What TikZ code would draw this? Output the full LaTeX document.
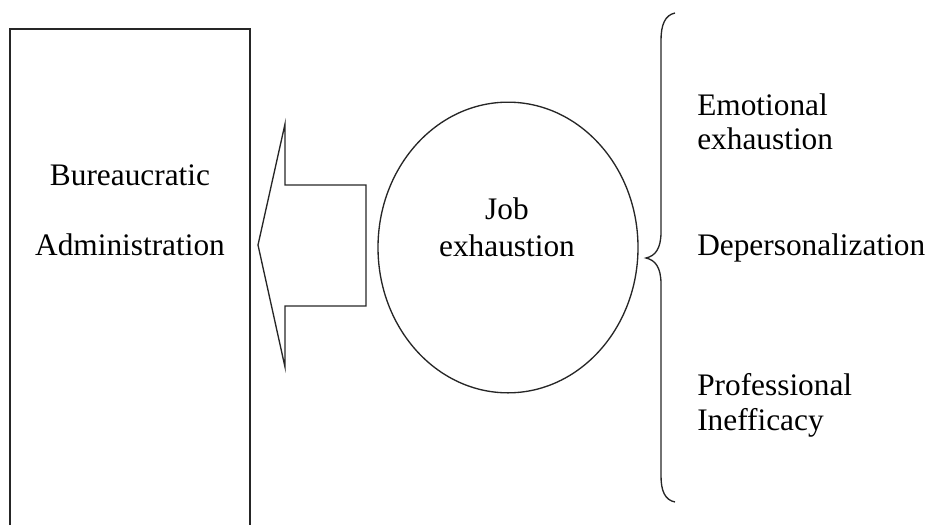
\documentclass[tikz,border=0pt]{standalone}
\usepackage{fontspec}
\setmainfont{Liberation Serif}
\usetikzlibrary{shapes.geometric}
\begin{document}
\begin{tikzpicture}[x=0.75pt,y=-0.75pt,
  shape line/.style={draw=black!85, line width=1pt},
  label text/.style={font=\fontsize{23.5}{26}\selectfont, inner sep=0pt, text=black},
]
\useasboundingbox (0,0) rectangle (930,525);
% Bureaucratic Administration box (open at the bottom)
\draw[shape line] (10,525) -- (10,29) -- (250,29) -- (250,525);
\node[label text, anchor=base] (bur1) at (130,185) {Bureaucratic};
\node[label text, anchor=base] (bur2) at (130,255) {Administration};
% Block arrow pointing left
\coordinate (tip) at (258,245);
\draw[shape line, line join=miter] (tip) -- (285,124) -- (285,185) -- (366,185) -- (366,306) -- (285,306) -- (285,367) -- cycle;
% Job exhaustion ellipse
\node[shape line, ellipse, minimum width=195pt, minimum height=218pt, inner sep=0pt] (job) at (508,247.5) {};
\node[label text, anchor=base] (job1) at (507,219) {Job};
\node[label text, anchor=base] (job2) at (507,256) {exhaustion};
% Brace
\draw[shape line] (675,13) .. controls (665,15) and (661,25) .. (661,40) -- (661,232)
  .. controls (661,249) and (655,256) .. (646,258)
  .. controls (655,260) and (661,267) .. (661,284) -- (661,476)
  .. controls (661,491) and (665,500) .. (675,502);
% Dimensions
\node[label text, anchor=base west] (emo1) at (697,115) {Emotional};
\node[label text, anchor=base west] (emo2) at (697,149) {exhaustion};
\node[label text, anchor=base west] (dep) at (697,255) {Depersonalization};
\node[label text, anchor=base west] (pro1) at (697,395) {Professional};
\node[label text, anchor=base west] (pro2) at (697,430) {Inefficacy};
\end{tikzpicture}
\end{document}
